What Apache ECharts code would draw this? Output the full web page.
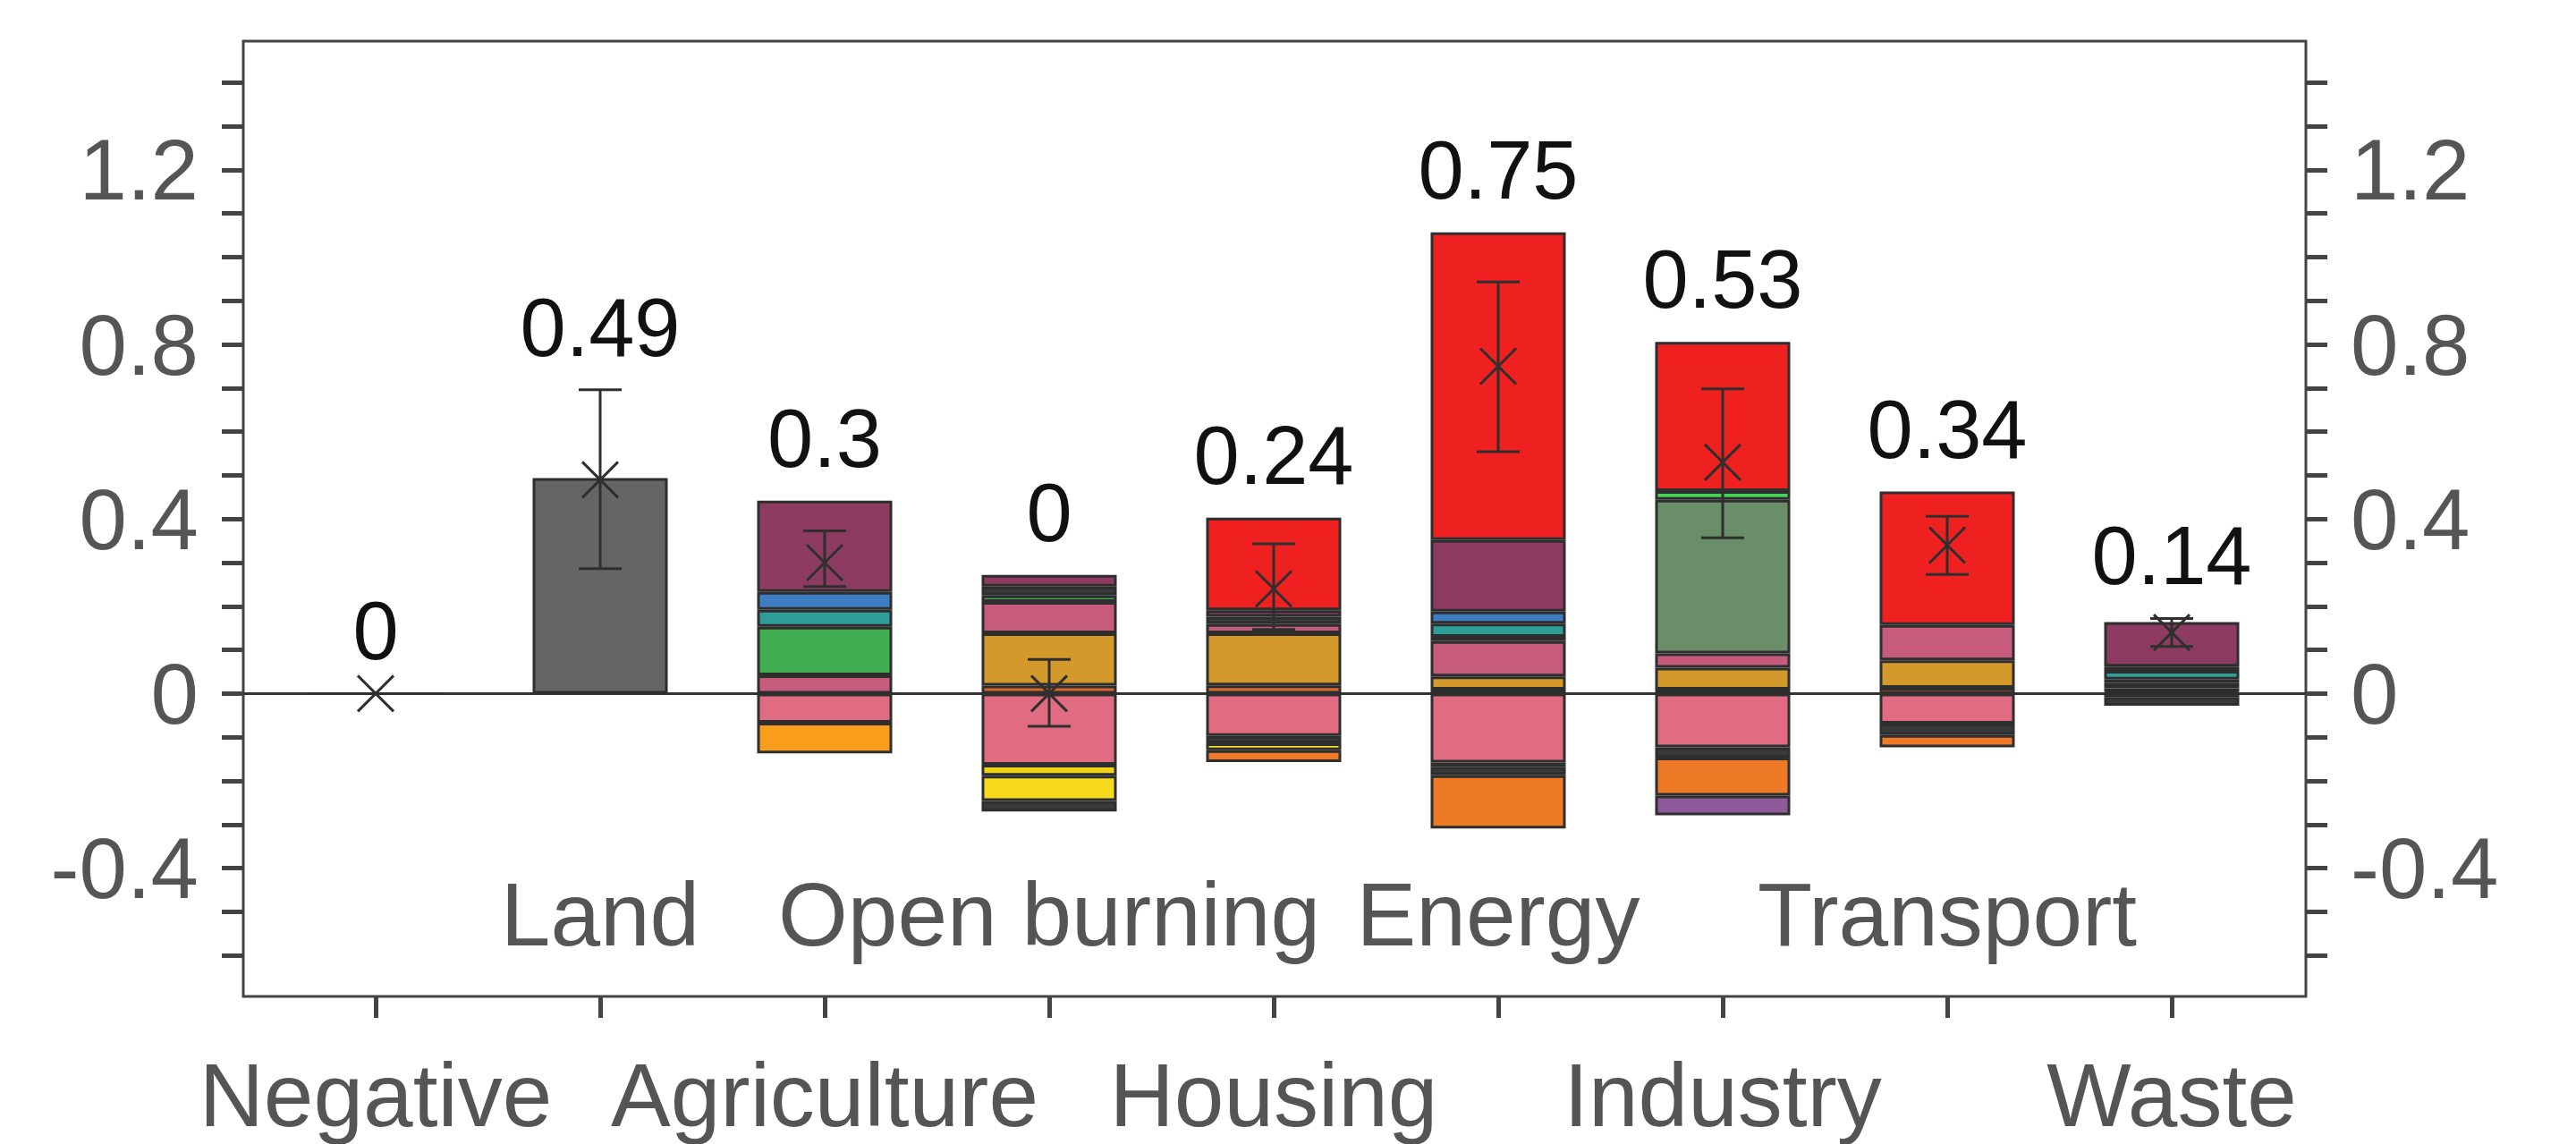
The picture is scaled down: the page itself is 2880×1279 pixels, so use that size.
<!DOCTYPE html>
<html>
<head>
<meta charset="utf-8">
<script src="https://cdn.jsdelivr.net/npm/echarts@6.0.0/dist/echarts.min.js"></script>
<style>
  html, body { margin: 0; padding: 0; background: #fff; }
  #chart { width: 2880px; height: 1279px; }
</style>
</head>
<body>
<div id="chart"></div>
<script>
// categories along the bottom
const categories = ['Negative', 'Land', 'Agriculture', 'Open burning', 'Housing', 'Energy', 'Industry', 'Transport', 'Waste'];

// positive parts, stacked up from zero in this order
const landGray   = [0, 0.494, '-', '-', '-', '-', '-', '-', '-'];
const orangeThin = ['-', '-', '-', 0.018, 0.019, 0.009, 0.009, 0.013, 0.004];
const gold       = ['-', '-', '-', 0.120, 0.119, 0.030, 0.050, 0.063, 0.008];
const rose       = ['-', '-', 0.042, 0.072, 0.021, 0.081, 0.033, 0.081, 0.012];
const green      = ['-', '-', 0.111, 0.015, '-', '-', '-', '-', '-'];
const darkPos    = ['-', '-', '-', 0.020, 0.017, 0.010, '-', '-', 0.008];
const teal       = ['-', '-', 0.039, '-', '-', 0.030, '-', '-', 0.020];
const blue       = ['-', '-', 0.041, '-', '-', 0.028, '-', '-', 0.010];
const maroon     = ['-', '-', 0.209, 0.027, 0.015, 0.164, '-', '-', 0.102];
const sage       = ['-', '-', '-', '-', '-', '-', 0.352, '-', '-'];
const lime       = ['-', '-', '-', '-', '-', '-', 0.020, '-', '-'];
const red        = ['-', '-', '-', '-', 0.212, 0.705, 0.342, 0.306, '-'];

// negative parts, stacked down from zero in this order
const pink       = ['-', '-', -0.067, -0.163, -0.097, -0.158, -0.123, -0.069, -0.008];
const yellowA    = ['-', '-', '-', -0.025, '-', -0.010, '-', '-', '-'];
const darkA      = ['-', '-', '-', '-', -0.017, -0.019, -0.024, -0.026, -0.020];
const yellowB    = ['-', '-', '-', -0.058, -0.016, '-', '-', '-', '-'];
const darkB      = ['-', '-', '-', -0.024, '-', '-', '-', '-', '-'];
const amber      = ['-', '-', -0.070, '-', '-', '-', '-', '-', '-'];
const orange     = ['-', '-', '-', '-', -0.027, -0.122, -0.087, -0.028, '-'];
const purple     = ['-', '-', '-', '-', '-', '-', -0.045, '-', '-'];

// net value (cross + number on top) and uncertainty range
const totals  = [0, 0.49, 0.3, 0, 0.24, 0.75, 0.53, 0.34, 0.14];
const errLow  = [null, 0.286, 0.245, -0.075, 0.147, 0.554, 0.357, 0.273, 0.108];
const errHigh = [null, 0.696, 0.373, 0.078, 0.343, 0.943, 0.698, 0.406, 0.172];

// y axis
const yMin = -0.694, yMax = 1.495;
const tickMin = -0.6, tickMax = 1.4;

const FONT = '"Liberation Sans", Arial, Helvetica, sans-serif';

const parts = [
  ['Land', landGray, '#656565'],
  ['A', orangeThin, '#d8652a'],
  ['B', gold, '#d39a2b'],
  ['C', rose, '#c65b7b'],
  ['D', green, '#41ae52'],
  ['E', darkPos, '#3a3a3a'],
  ['F', teal, '#2e9d98'],
  ['G', blue, '#3c7dc4'],
  ['H', maroon, '#8e3b62'],
  ['I', sage, '#6a8e69'],
  ['J', lime, '#45d257'],
  ['K', red, '#ee2020'],
  ['L', pink, '#e16c82'],
  ['M', yellowA, '#f2d31b'],
  ['N', darkA, '#3a3a3a'],
  ['O', yellowB, '#f7da1e'],
  ['P', darkB, '#3a3a3a'],
  ['Q', amber, '#f99d1c'],
  ['R', orange, '#ee7a28'],
  ['S', purple, '#8e5a9b']
];

// top of each positive stack, used to place the number label
const num = v => (typeof v === 'number' ? v : 0);
const posArrays = [landGray, orangeThin, gold, rose, green, darkPos, teal, blue, maroon, sage, lime, red];
const stackTop = categories.map((c, i) => posArrays.reduce((s, a) => s + Math.max(0, num(a[i])), 0));

const chart = echarts.init(document.getElementById('chart'), null, { renderer: 'svg' });

const barSeries = parts.map(([name, data, color]) => ({
  name: name,
  type: 'bar',
  stack: 'total',
  xAxisIndex: 0,
  yAxisIndex: 0,
  barWidth: 151,
  data: data,
  itemStyle: { color: color, borderColor: '#2e2e2e', borderWidth: 3 },
  emphasis: { disabled: true },
  z: 3
}));

const errSeries = {
  type: 'custom',
  xAxisIndex: 0,
  yAxisIndex: 0,
  z: 6,
  clip: false,
  data: categories.map((c, i) => [i, totals[i]]),
  encode: { x: 0, y: 1 },
  renderItem: function (params, api) {
    const i = params.dataIndex;
    const st = { stroke: '#2f2f2f', lineWidth: 3 };
    const c = api.coord([i, totals[i]]);
    const kids = [];
    if (errLow[i] !== null) {
      const pl = api.coord([i, errLow[i]]);
      const ph = api.coord([i, errHigh[i]]);
      kids.push({ type: 'line', shape: { x1: c[0], y1: pl[1], x2: c[0], y2: ph[1] }, style: st });
      kids.push({ type: 'line', shape: { x1: c[0] - 24, y1: pl[1], x2: c[0] + 24, y2: pl[1] }, style: st });
      kids.push({ type: 'line', shape: { x1: c[0] - 24, y1: ph[1], x2: c[0] + 24, y2: ph[1] }, style: st });
    }
    const d = 20;
    kids.push({ type: 'line', shape: { x1: c[0] - d, y1: c[1] - d, x2: c[0] + d, y2: c[1] + d }, style: st });
    kids.push({ type: 'line', shape: { x1: c[0] - d, y1: c[1] + d, x2: c[0] + d, y2: c[1] - d }, style: st });
    const anchor = Math.max(stackTop[i], errHigh[i] === null ? totals[i] : errHigh[i]);
    const pa = api.coord([i, anchor]);
    kids.push({
      type: 'text',
      style: {
        text: String(totals[i]),
        x: pa[0], y: pa[1] - 24,
        fill: '#111',
        font: '92px ' + FONT,
        textAlign: 'center',
        textVerticalAlign: 'bottom'
      }
    });
    return { type: 'group', children: kids };
  }
};

chart.setOption({
  animation: false,
  backgroundColor: '#fff',
  grid: [
    { left: 294.5, top: 46, width: 2259, height: 1068, show: false },
    { left: 272, top: 46, width: 2306, height: 1068, show: true, borderColor: '#444', borderWidth: 3, backgroundColor: 'transparent' },
    { left: 272, top: 46 + (yMax - tickMax) * 1068 / (yMax - yMin), width: 2306, height: (tickMax - tickMin) * 1068 / (yMax - yMin), show: false }
  ],
  xAxis: [
    {
      type: 'category', gridIndex: 0, data: categories, position: 'bottom',
      axisLine: { show: false, onZero: false },
      axisTick: { show: true, alignWithLabel: true, interval: 0, length: 24, lineStyle: { color: '#444', width: 5 } },
      axisLabel: {
        interval: (idx) => idx % 2 === 0,
        margin: 60, color: '#555', fontSize: 100, fontFamily: FONT
      },
      splitLine: { show: false }
    },
    {
      type: 'category', gridIndex: 0, data: categories, position: 'bottom',
      axisLine: { show: false, onZero: false },
      axisTick: { show: false },
      axisLabel: {
        inside: true,
        interval: (idx) => idx % 2 === 1,
        margin: 42, color: '#555', fontSize: 100, fontFamily: FONT
      },
      splitLine: { show: false }
    },
    {
      type: 'value', gridIndex: 1, min: 0, max: 1,
      axisLine: { show: true, onZero: true, lineStyle: { color: '#333', width: 3 } },
      axisTick: { show: false }, axisLabel: { show: false }, splitLine: { show: false }
    },
    {
      type: 'value', gridIndex: 2, min: 0, max: 1, show: false
    }
  ],
  yAxis: [
    { type: 'value', gridIndex: 0, min: yMin, max: yMax, show: false, splitLine: { show: false } },
    {
      type: 'value', gridIndex: 1, min: yMin, max: yMax,
      axisLine: { show: false }, axisTick: { show: false }, axisLabel: { show: false }, splitLine: { show: false }
    },
    {
      type: 'value', gridIndex: 2, position: 'left', min: tickMin, max: tickMax, interval: 0.1,
      axisLine: { show: false },
      axisTick: { show: true, length: 24, lineStyle: { color: '#444', width: 5 } },
      axisLabel: {
        margin: 50, color: '#555', fontSize: 96, fontFamily: FONT,
        formatter: v => { const r = Math.round(v * 10); return r % 4 === 0 ? String(r / 10) : ''; }
      },
      splitLine: { show: false }
    },
    {
      type: 'value', gridIndex: 2, position: 'right', min: tickMin, max: tickMax, interval: 0.1,
      axisLine: { show: false },
      axisTick: { show: true, length: 24, lineStyle: { color: '#444', width: 5 } },
      axisLabel: {
        margin: 50, color: '#555', fontSize: 96, fontFamily: FONT,
        formatter: v => { const r = Math.round(v * 10); return r % 4 === 0 ? String(r / 10) : ''; }
      },
      splitLine: { show: false }
    }
  ],
  series: barSeries.concat([errSeries])
});
</script>
</body>
</html>
